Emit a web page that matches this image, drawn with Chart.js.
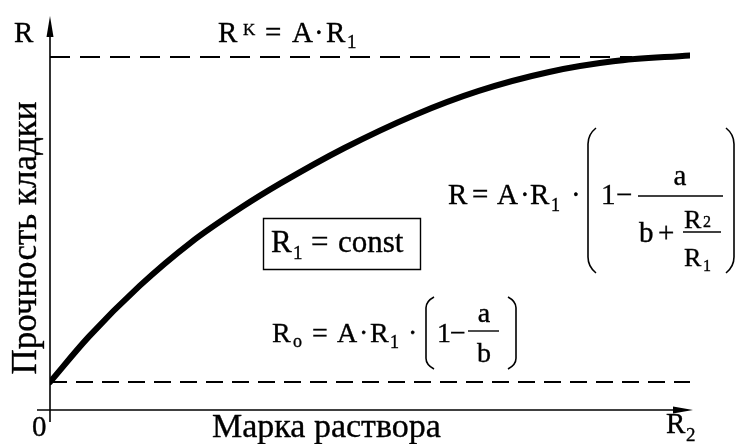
<!DOCTYPE html>
<html>
<head>
<meta charset="utf-8">
<script src="https://cdn.jsdelivr.net/npm/chart.js@4/dist/chart.umd.min.js"></script>
<style>
  html, body { margin: 0; padding: 0; background: #fff; }
  #wrap { width: 739px; height: 444px; position: relative; }
</style>
</head>
<body>
<div id="wrap"><canvas id="c" width="739" height="444"></canvas></div>
<script>
// ---- data (arbitrary units) ----
const mortarGrade = [0, 6, 14, 22, 30, 36, 46, 57, 67, 78, 88, 100];          // R2
const masonryStrength = [7.1, 18.5, 31.5, 42.5, 51.5, 57.5, 66.5, 74.9, 81.0, 85.8, 88.5, 90.0]; // R
const strengthR0 = 7.1;      // R_o
const strengthRK = 89.6;     // R^K
const topDashEndX = 91;
const axisMaxX = 100;
const axisMaxY = 100;
const yAxisTitle = 'Прочность кладки';
const xAxisTitle = 'Марка раствора';
const originLabel = '0';

const FONT = '"Liberation Serif", "Times New Roman", serif';

function t(ctx, s, x, y, size, align) {
  ctx.font = size + 'px ' + FONT;
  ctx.textAlign = align || 'left';
  ctx.textBaseline = 'alphabetic';
  ctx.fillText(s, x, y);
  ctx.lineWidth = 0.35;
  ctx.strokeText(s, x, y);
}
function hline(ctx, x1, x2, y, w) {
  ctx.beginPath(); ctx.lineWidth = w || 1.5; ctx.moveTo(x1, y); ctx.lineTo(x2, y); ctx.stroke();
}
function paren(ctx, x, top, bottom, dir) {
  // dir = 1 for "(", -1 for ")"; x is the outer-most (middle) x
  const h = bottom - top;
  const c = Math.min(16, h * 0.15);
  ctx.beginPath();
  ctx.lineWidth = 1.6;
  ctx.moveTo(x + dir * 8, top);
  ctx.quadraticCurveTo(x, top + c * 0.4, x, top + c);
  ctx.lineTo(x, bottom - c);
  ctx.quadraticCurveTo(x, bottom - c * 0.4, x + dir * 8, bottom);
  ctx.stroke();
}

const drawing = {
  id: 'drawing',
  beforeDatasetsDraw(chart) {
    const ctx = chart.ctx;
    const xs = chart.scales.x, ys = chart.scales.y;
    const x0 = xs.getPixelForValue(0), y0 = ys.getPixelForValue(0);
    const xTip = xs.getPixelForValue(axisMaxX) + 3;
    const yTip = ys.getPixelForValue(axisMaxY);
    ctx.save();
    ctx.strokeStyle = '#000'; ctx.fillStyle = '#000';
    // x axis
    hline(ctx, x0 - 13, xTip - 10, y0, 1.6);
    ctx.beginPath();
    ctx.moveTo(xTip, y0); ctx.lineTo(xTip - 20, y0 - 3.5); ctx.lineTo(xTip - 20, y0 + 3.5); ctx.closePath(); ctx.fill();
    // y axis
    ctx.beginPath(); ctx.lineWidth = 1.6; ctx.moveTo(x0, y0 + 12); ctx.lineTo(x0, yTip + 10); ctx.stroke();
    ctx.beginPath();
    ctx.moveTo(x0, yTip); ctx.lineTo(x0 - 3.5, yTip + 21); ctx.lineTo(x0 + 3.5, yTip + 21); ctx.closePath(); ctx.fill();
    ctx.restore();
  },
  afterDraw(chart) {
    const ctx = chart.ctx;
    const xs = chart.scales.x, ys = chart.scales.y;
    const x0 = xs.getPixelForValue(0), y0 = ys.getPixelForValue(0);
    ctx.save();
    ctx.fillStyle = '#000'; ctx.strokeStyle = '#000';

    // axis names
    t(ctx, 'R', 14, 42, 29);
    t(ctx, originLabel, x0 - 18, 436, 29);
    t(ctx, xAxisTitle, 212, 437, 34);
    t(ctx, 'R', 666, 433, 29); t(ctx, '2', 686, 441, 19);
    ctx.save();
    ctx.translate(27, 238);
    ctx.rotate(-Math.PI / 2);
    ctx.font = '35px ' + FONT; ctx.textAlign = 'center'; ctx.textBaseline = 'middle';
    ctx.lineWidth = 0.35;
    ctx.fillText(yAxisTitle, 0, 0);
    ctx.strokeText(yAxisTitle, 0, 0);
    ctx.restore();

    // R^K = A · R1
    t(ctx, 'R', 218, 42, 29); t(ctx, 'K', 243, 35, 17);
    t(ctx, '=', 265, 42, 29); t(ctx, 'A', 292, 42, 29); t(ctx, '·', 314, 42, 29);
    t(ctx, 'R', 326, 42, 29); t(ctx, '1', 347, 48, 19);

    // boxed R1 = const
    ctx.beginPath(); ctx.lineWidth = 1.4; ctx.rect(263.5, 218.5, 157, 51); ctx.stroke();
    t(ctx, 'R', 271, 252, 31); t(ctx, '1', 293, 259, 19);
    t(ctx, '=', 311, 252, 31); t(ctx, 'const', 338, 252, 31);

    // R = A·R1·(1 − a/(b + R2/R1))
    t(ctx, 'R', 448, 204, 29); t(ctx, '=', 472, 204, 29); t(ctx, 'A', 497, 204, 29);
    t(ctx, '·', 520, 204, 29); t(ctx, 'R', 530, 204, 29); t(ctx, '1', 551, 211, 18);
    t(ctx, '·', 571, 204, 29);
    paren(ctx, 588, 128, 273, 1);
    t(ctx, '1', 601, 204, 29); t(ctx, '−', 616, 204, 29);
    hline(ctx, 638, 723, 196, 1.5);
    t(ctx, 'a', 680, 185, 29, 'center');
    t(ctx, 'b', 639, 242, 29); t(ctx, '+', 658, 242, 29);
    hline(ctx, 683, 721, 232, 1.3);
    t(ctx, 'R', 684, 228, 26); t(ctx, '2', 703, 227, 16);
    t(ctx, 'R', 684, 266, 26); t(ctx, '1', 703, 271, 16);
    paren(ctx, 734, 128, 273, -1);

    // R_o = A·R1·(1 − a/b)
    t(ctx, 'R', 272, 342, 28); t(ctx, 'o', 293, 347, 18);
    t(ctx, '=', 312, 342, 28); t(ctx, 'A', 337, 342, 28); t(ctx, '·', 359, 342, 28);
    t(ctx, 'R', 370, 342, 28); t(ctx, '1', 390, 348, 18); t(ctx, '·', 408, 342, 28);
    paren(ctx, 426, 297, 369, 1);
    t(ctx, '1', 437, 342, 28); t(ctx, '−', 450, 342, 28);
    hline(ctx, 468, 499, 331, 1.4);
    t(ctx, 'a', 484, 322, 28, 'center');
    t(ctx, 'b', 484, 362, 28, 'center');
    paren(ctx, 516, 297, 369, -1);

    ctx.restore();
  }
};

const toPts = (xs, ys) => xs.map((x, i) => ({ x: x, y: ys[i] }));

new Chart(document.getElementById('c'), {
  type: 'scatter',
  data: {
    datasets: [
      {
        label: 'R',
        data: toPts(mortarGrade, masonryStrength),
        showLine: true,
        borderColor: '#000',
        borderWidth: 6,
        borderCapStyle: 'round',
        cubicInterpolationMode: 'monotone',
        pointRadius: 0
      },
      {
        label: 'RK',
        data: [{ x: 0, y: strengthRK }, { x: topDashEndX, y: strengthRK }],
        showLine: true,
        borderColor: '#000',
        borderWidth: 2,
        borderDash: [20, 10],
        pointRadius: 0
      },
      {
        label: 'R0',
        data: [{ x: 0, y: strengthR0 }, { x: axisMaxX, y: strengthR0 }],
        showLine: true,
        borderColor: '#000',
        borderWidth: 2,
        borderDash: [17, 9],
        pointRadius: 0
      }
    ]
  },
  options: {
    responsive: false,
    animation: false,
    devicePixelRatio: 1,
    layout: { padding: { left: 50, right: 49, top: 16, bottom: 34 } },
    plugins: { legend: { display: false }, tooltip: { enabled: false } },
    scales: {
      x: { type: 'linear', min: 0, max: axisMaxX, display: false },
      y: { type: 'linear', min: 0, max: axisMaxY, display: false }
    }
  },
  plugins: [drawing]
});
</script>
</body>
</html>
